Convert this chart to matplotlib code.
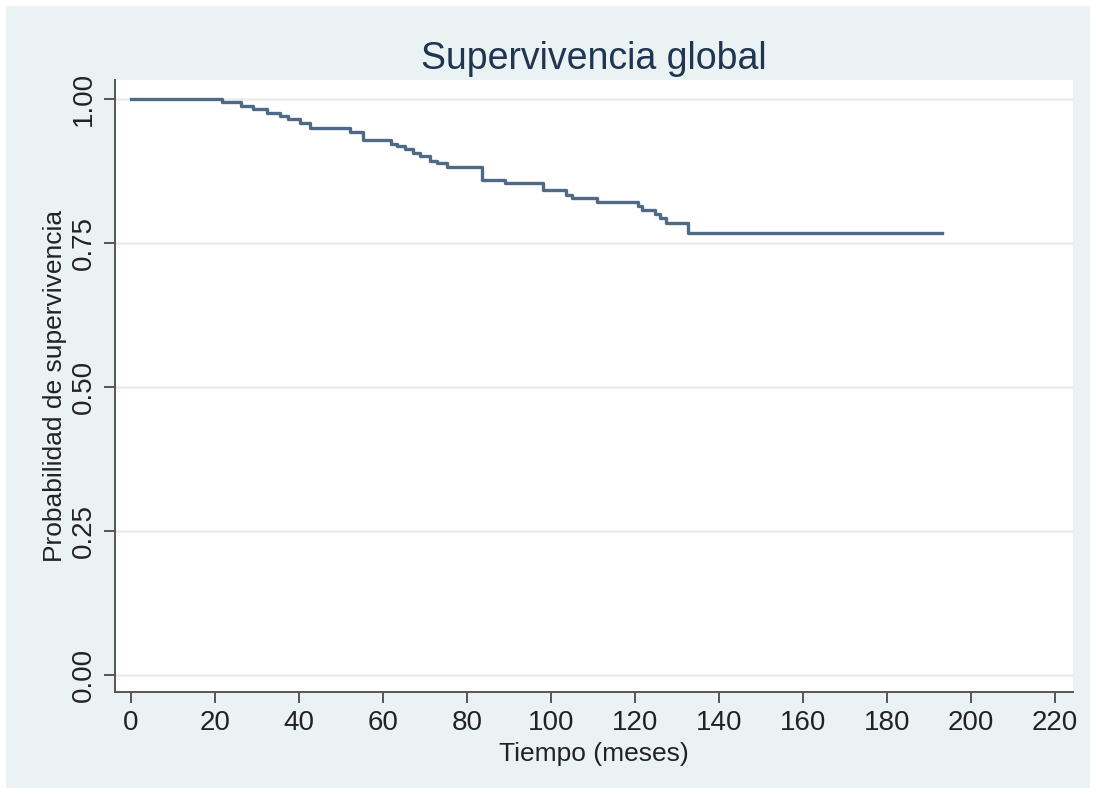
"""
Curva de supervivencia global (Kaplan-Meier), estilo Stata
"""

import matplotlib
matplotlib.use('Agg')
import matplotlib.pyplot as plt
from matplotlib.patches import Rectangle

matplotlib.rcParams['font.family'] = ['Liberation Sans', 'DejaVu Sans']

# tiempos de cada escalón (meses) y probabilidad de supervivencia tras el escalón
tiempos = [0, 21.6, 26.3, 29.1, 32.3, 35.5, 37.5, 40.2, 42.6, 52.1, 55.3,
           62.0, 63.3, 65.2, 67.2, 68.8, 71.2, 72.8, 75.2, 83.5, 89.0,
           98.2, 103.7, 104.9, 110.9, 120.8, 121.6, 124.8, 126.0, 127.5, 132.7]
supervivencia = [1.000, 0.994, 0.988, 0.982, 0.976, 0.970, 0.965, 0.958, 0.950, 0.943, 0.928,
                 0.922, 0.918, 0.913, 0.906, 0.901, 0.893, 0.889, 0.882, 0.859, 0.854,
                 0.842, 0.833, 0.829, 0.821, 0.814, 0.808, 0.801, 0.793, 0.784, 0.767]
tiempo_final = 193

x_ticks = list(range(0, 221, 20))
y_ticks = [0.0, 0.25, 0.50, 0.75, 1.00]
y_ticklabels = ['0.00', '0.25', '0.50', '0.75', '1.00']

fondo = '#EAF2F3'
color_linea = '#4E6A85'
color_eje = '#555555'

fig = plt.figure(figsize=(10.96, 7.94), dpi=100, facecolor='white')

# región del gráfico (fondo azulado con borde blanco)
fig.patches.append(Rectangle((6 / 1096, 6 / 794), 1084 / 1096, 782 / 794,
                             transform=fig.transFigure, facecolor=fondo,
                             edgecolor='none', zorder=-1))

ax = fig.add_axes([115 / 1096, 102 / 794, 958 / 1096, 612 / 794])
ax.set_facecolor('white')

xs = tiempos + [tiempo_final]
ys = supervivencia + [supervivencia[-1]]
ax.step(xs, ys, where='post', color=color_linea, linewidth=2.4, zorder=3)

ax.set_xlim(-3.8, 224.3)
ax.set_ylim(-0.0295, 1.033)

ax.set_xticks(x_ticks)
ax.set_yticks(y_ticks)
ax.set_yticklabels(y_ticklabels, rotation=90, va='center')

# líneas de rejilla horizontales muy suaves
for y in y_ticks:
    ax.axhline(y, color='#ECECEC', linewidth=1.8, zorder=1)

for lado in ['top', 'right']:
    ax.spines[lado].set_visible(False)
for lado in ['left', 'bottom']:
    ax.spines[lado].set_color(color_eje)
    ax.spines[lado].set_linewidth(1.4)

ax.tick_params(axis='both', direction='out', length=8, width=1.4,
               color=color_eje, labelsize=20, labelcolor='#222222', pad=5)

ax.set_xlabel('Tiempo (meses)', fontsize=19, color='#222222', labelpad=4)
ax.set_ylabel('Probabilidad de supervivencia', fontsize=19, color='#222222', labelpad=3)
ax.set_title('Supervivencia global', fontsize=27, color='#1F3550', pad=8)

fig.savefig('out.png', dpi=100, facecolor=fig.get_facecolor())
plt.close(fig)
